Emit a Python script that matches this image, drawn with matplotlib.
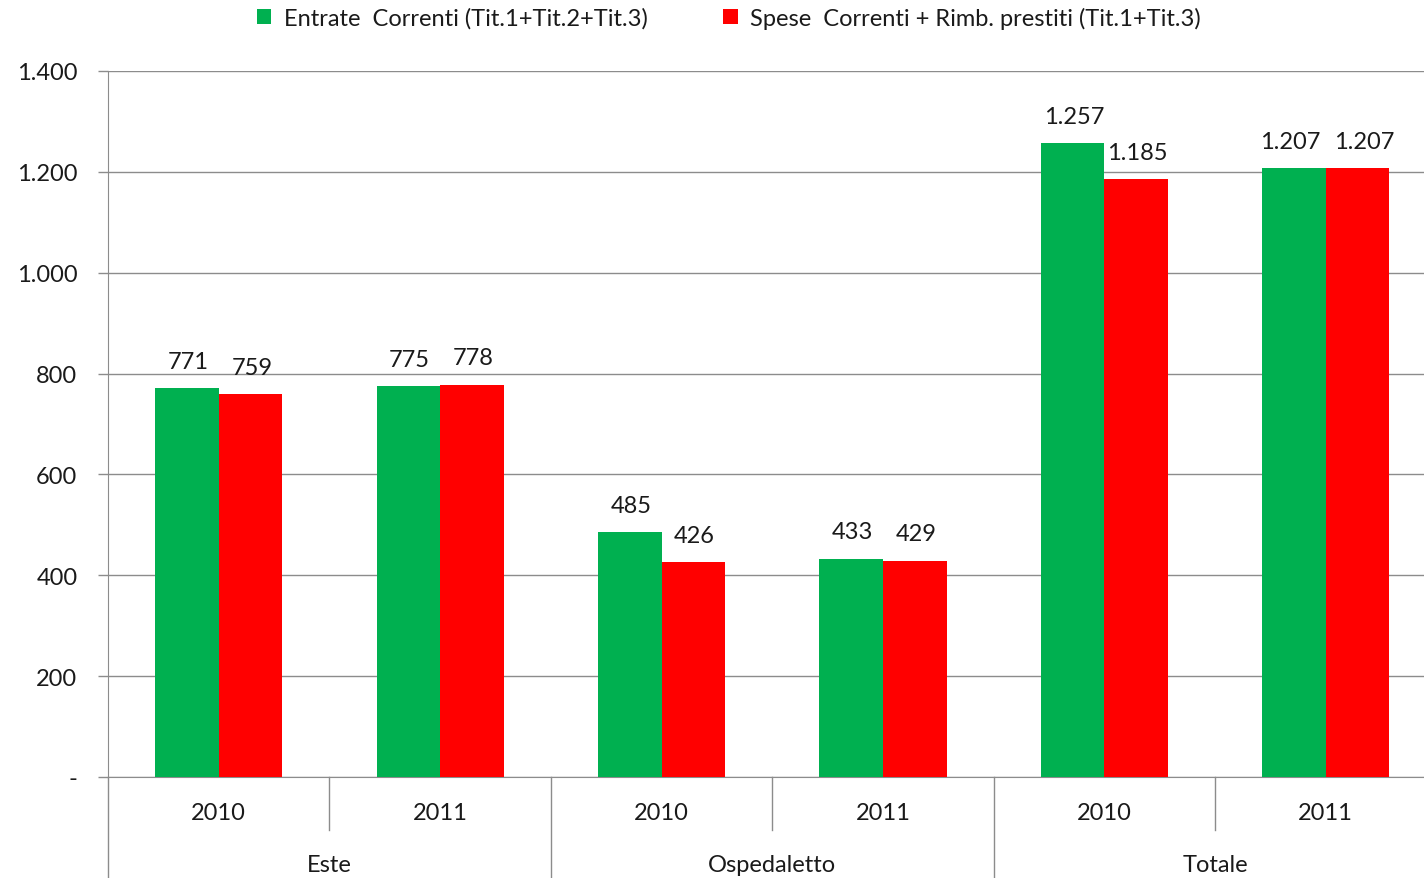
import matplotlib
matplotlib.use("Agg")
import matplotlib.pyplot as plt
import numpy as np

years = ["2010", "2011", "2010", "2011", "2010", "2011"]
groups = ["Este", "Ospedaletto", "Totale"]
entrate = [771, 775, 485, 433, 1257, 1207]
spese = [759, 778, 426, 429, 1185, 1207]
series_names = ["Entrate  Correnti (Tit.1+Tit.2+Tit.3)",
                "Spese  Correnti + Rimb. prestiti (Tit.1+Tit.3)"]
yticks = [0, 200, 400, 600, 800, 1000, 1200, 1400]
ytick_labels = ["-", "200", "400", "600", "800", "1.000", "1.200", "1.400"]

GREEN = "#00B050"
RED = "#FF0000"
GRID = "#8C8C8C"
TXT = "#1a1a1a"
FS = 17

plt.rcParams['font.family'] = ['Lato', 'DejaVu Sans']

def fmt(v):
    return f"{v:,}".replace(",", ".")

fig = plt.figure(figsize=(14.24, 8.79), dpi=100)
ax = fig.add_axes([108/1424, 101/879, 1328.5/1424, 706/879])

x = np.arange(len(years))
w = 0.287
b1 = ax.bar(x - w/2, entrate, w, color=GREEN, label=series_names[0], zorder=3)
b2 = ax.bar(x + w/2, spese, w, color=RED, label=series_names[1], zorder=3)

for i, (xi, v) in enumerate(zip(x - w/2, entrate)):
    dx = -3 if i == len(x) - 1 else 1
    ax.annotate(fmt(v), (xi, v), xytext=(dx, 19.5), textcoords="offset points",
                ha="center", va="center", fontsize=FS, color=TXT)
for i, (xi, v) in enumerate(zip(x + w/2, spese)):
    dx = 5 if i == len(x) - 1 else 1
    ax.annotate(fmt(v), (xi, v), xytext=(dx, 19.5), textcoords="offset points",
                ha="center", va="center", fontsize=FS, color=TXT)

ax.set_xlim(-0.5, len(years) - 0.5)
ax.set_ylim(0, 1400)
ax.set_yticks(yticks)
ax.set_yticklabels(ytick_labels, fontsize=FS, color=TXT)
ax.yaxis.grid(True, color=GRID, linewidth=1, zorder=0)
ax.set_axisbelow(True)
ax.tick_params(axis='y', length=7, color=GRID, pad=15, width=1)
ax.set_xticks([])
for s in ["top", "right"]:
    ax.spines[s].set_visible(False)
ax.spines["left"].set_color(GRID)
ax.spines["bottom"].set_color(GRID)

tr = ax.get_xaxis_transform()
# category separators
for i in range(len(years) + 1):
    xs = i - 0.5
    bottom = -0.143 if i % 2 == 0 else -0.075
    ax.plot([xs, xs], [0, bottom], transform=tr, color=GRID, lw=1, clip_on=False)
for xi, yl in zip(x, years):
    ax.text(xi, -0.05, yl, transform=tr, ha="center", va="center", fontsize=FS, color=TXT)
for gi, g in enumerate(groups):
    ax.text(2*gi + 0.5, -0.124, g, transform=tr, ha="center", va="center", fontsize=FS, color=TXT)

leg = fig.legend(handles=[b1, b2], loc="center", bbox_to_anchor=(729/1424, 1 - 19/879),
                 ncol=2, frameon=False, fontsize=FS, handlelength=0.6, handleheight=0.6,
                 columnspacing=3.2, handletextpad=0.55)
for t in leg.get_texts():
    t.set_color(TXT)

fig.savefig("out.png", dpi=100)
